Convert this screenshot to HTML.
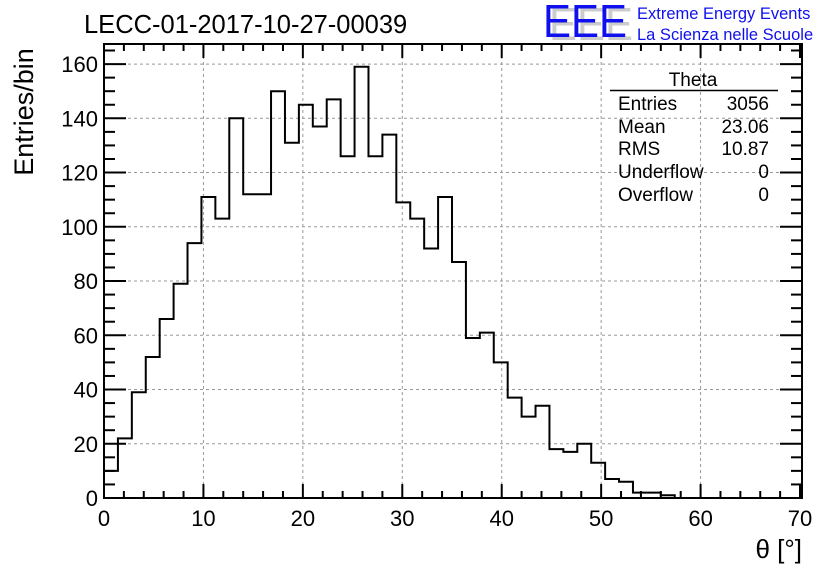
<!DOCTYPE html>
<html><head><meta charset="utf-8"><style>
body{margin:0;background:#fff}
svg{display:block;font-family:"Liberation Sans",sans-serif}
</style></head><body>
<svg id="c" width="836" height="572" xmlns="http://www.w3.org/2000/svg">
<text x="84" y="33" font-size="25.5">LECC-01-2017-10-27-00039</text>
<g>
<text x="549" y="40" font-size="46" fill="#ccc" textLength="84" lengthAdjust="spacingAndGlyphs">EEE</text>
<text x="543" y="37" font-size="46" fill="#1010ee" textLength="84" lengthAdjust="spacingAndGlyphs">EEE</text>
<text x="637" y="19" font-size="16.5" fill="#1010ee">Extreme Energy Events</text>
<text x="637" y="40" font-size="16.5" fill="#1010ee">La Scienza nelle Scuole</text>
</g>
<g id="grid"></g>
<g id="ticks"></g>
<path id="hist" fill="none" stroke="#000" stroke-width="2"/>
<rect x="104" y="44" width="698" height="454" fill="none" stroke="#000" stroke-width="2"/>
<text x="0" y="0" font-size="27" transform="translate(33,112) rotate(-90)" text-anchor="middle">Entries/bin</text>
<text x="802" y="558" font-size="26" text-anchor="end">θ [°]</text>
<g font-size="19">
<text x="693" y="86" text-anchor="middle">Theta</text>
<line x1="610" y1="90.5" x2="778" y2="90.5" stroke="#000" stroke-width="1.5"/>
<text x="618" y="110">Entries</text><text x="769" y="110" text-anchor="end">3056</text>
<text x="618" y="133">Mean</text><text x="769" y="133" text-anchor="end">23.06</text>
<text x="618" y="155">RMS</text><text x="769" y="155" text-anchor="end">10.87</text>
<text x="618" y="178">Underflow</text><text x="769" y="178" text-anchor="end">0</text>
<text x="618" y="201">Overflow</text><text x="769" y="201" text-anchor="end">0</text>
</g>
</svg>
<script>
const binWidth = 1.4;
const counts = [10,22,39,52,66,79,94,111,103,140,112,112,150,131,145,137,147,126,159,126,134,109,103,92,111,87,59,61,50,37,30,34,18,17,20,13,7,6,2,2,1,0,0,0,0,0,0,0,0,0];
const xTicks = [0,10,20,30,40,50,60,70];
const yTicks = [0,20,40,60,80,100,120,140,160];
const X0=104,X1=802,Y0=498,YT=44, XMAX=70.2, YMAX=167.4;
const sx=v=>X0+v/XMAX*(X1-X0);
const sy=v=>Y0-v/YMAX*(Y0-YT);
const NS='http://www.w3.org/2000/svg';
const grid=document.getElementById('grid'), tk=document.getElementById('ticks');
function mk(p,tag,a){const e=document.createElementNS(NS,tag);for(const k in a)e.setAttribute(k,a[k]);p.appendChild(e);return e;}
xTicks.forEach(v=>{
  if(v>0&&v<70){const g=mk(grid,'line',{x1:sx(v),x2:sx(v),y1:YT,y2:Y0,stroke:'#999','stroke-dasharray':'3,3'});
  
  }
  const t=mk(tk,'text',{x:sx(v),y:Y0+28,'font-size':22,'text-anchor':'middle'});t.textContent=v;
  
  
});
yTicks.forEach(v=>{
  if(v>0){const g=mk(grid,'line',{x1:X0,x2:X1,y1:sy(v),y2:sy(v),stroke:'#999','stroke-dasharray':'3,3'});
  
  }
  const t=mk(tk,'text',{x:X0-6,y:sy(v)+8,'font-size':22,'text-anchor':'end'});t.textContent=v;
  
  
});
for(let v=0;v<=70;v+=2){const L=v%10===0?14:7;
  mk(tk,'line',{x1:sx(v),x2:sx(v),y1:Y0,y2:Y0-L,stroke:'#000','stroke-width':2});
  mk(tk,'line',{x1:sx(v),x2:sx(v),y1:YT,y2:YT+L,stroke:'#000','stroke-width':2});}
for(let v=0;v<=166;v+=5){const L=v%20===0?22:11;
  mk(tk,'line',{x1:X0,x2:X0+L,y1:sy(v),y2:sy(v),stroke:'#000','stroke-width':2});
  mk(tk,'line',{x1:X1,x2:X1-L,y1:sy(v),y2:sy(v),stroke:'#000','stroke-width':2});}
let d='M'+sx(0)+','+sy(0);
counts.forEach((c,i)=>{d+=' L'+sx(i*binWidth)+','+sy(c)+' L'+sx((i+1)*binWidth)+','+sy(c);});
document.getElementById('hist').setAttribute('d',d);
</script>
</body></html>
